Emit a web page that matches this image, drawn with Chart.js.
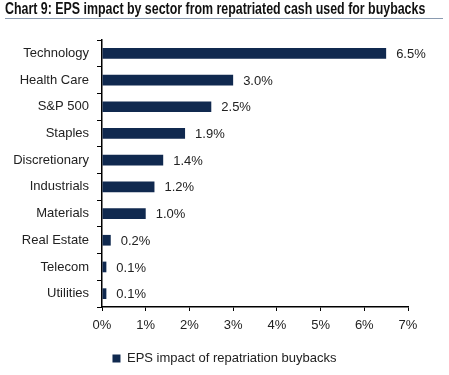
<!DOCTYPE html>
<html>
<head>
<meta charset="utf-8">
<script src="https://cdn.jsdelivr.net/npm/chart.js@4"></script>
<style>
  html, body { margin: 0; padding: 0; background: #fff; }
  #wrap { position: relative; width: 449px; height: 375px; }
  #title {
    position: absolute; left: 5px; top: 0px;
    font: bold 16px "Liberation Sans", Arial, sans-serif;
    color: #111; white-space: nowrap; transform-origin: 0 0;
  }
  #rule { position: absolute; left: 5px; top: 18px; width: 438px; height: 0; border-top: 1px solid #8a9bb0; }
  #chart { position: absolute; left: 0; top: 0; }
</style>
</head>
<body>
<div id="wrap">
  <canvas id="chart" width="449" height="375"></canvas>
  <div id="title">Chart 9: EPS impact by sector from repatriated cash used for buybacks</div>
  <div id="rule"></div>
</div>
<script>
'use strict';

const sectors = ['Technology', 'Health Care', 'S&P 500', 'Staples', 'Discretionary',
  'Industrials', 'Materials', 'Real Estate', 'Telecom', 'Utilities'];
const epsImpact = [6.5, 3.0, 2.5, 1.9, 1.4, 1.2, 1.0, 0.2, 0.1, 0.1];
const xTicks = [0, 1, 2, 3, 4, 5, 6, 7];

const barColor = '#10294f';
const font = { family: '"Liberation Sans", Arial, sans-serif', size: 13 };

// squeeze the title to the condensed width of the original
const titleElem = document.getElementById('title');
titleElem.style.transform = 'scaleX(' + (420 / titleElem.offsetWidth) + ')';

// value labels to the right of each bar
const valueLabels = {
  id: 'valueLabels',
  afterDatasetsDraw(chart) {
    const ctx = chart.ctx;
    const meta = chart.getDatasetMeta(0);
    ctx.save();
    ctx.font = '13px ' + font.family;
    ctx.fillStyle = '#222';
    ctx.textBaseline = 'middle';
    meta.data.forEach((bar, i) => {
      ctx.fillText(epsImpact[i].toFixed(1) + '%', bar.x + 10, bar.y + 1);
    });
    ctx.restore();
  }
};

// centre the legend on the whole canvas, not just left of the right padding
const wideLegend = {
  id: 'wideLegend',
  afterLayout(chart) {
    chart.legend.left = 0;
    chart.legend.right = chart.width;
    chart.legend.width = chart.width;
  }
};

const canvasElem = document.getElementById('chart');
new Chart(canvasElem.getContext('2d'), {
  type: 'bar',
  data: {
    labels: sectors,
    datasets: [{
      label: 'EPS impact of repatriation buybacks',
      data: epsImpact,
      backgroundColor: barColor,
      categoryPercentage: 1,
      barPercentage: 0.4
    }]
  },
  options: {
    indexAxis: 'y',
    responsive: false,
    animation: false,
    layout: { padding: { top: 40, right: 41, bottom: 0, left: 0 } },
    scales: {
      x: {
        min: 0,
        max: 7,
        afterBuildTicks(scale) { scale.ticks = xTicks.map(v => ({ value: v })); },
        ticks: { color: '#222', font: font, padding: 7, callback: v => v + '%' },
        grid: { drawOnChartArea: false, tickLength: 4, color: '#000', offset: false },
        border: { color: '#000', width: 1.5 },
        afterFit(scale) { scale.height = 40; }
      },
      y: {
        ticks: { color: '#222', font: font, padding: 8 },
        grid: { drawOnChartArea: false, tickLength: 5, color: '#000', offset: true },
        border: { color: '#000', width: 1.5 },
        afterFit(scale) { scale.width = 102; }
      }
    },
    plugins: {
      legend: {
        position: 'bottom',
        labels: { color: '#222', font: font, boxWidth: 8, boxHeight: 8, padding: 5 }
      },
      tooltip: { enabled: false }
    }
  },
  plugins: [valueLabels, wideLegend]
});
</script>
</body>
</html>
